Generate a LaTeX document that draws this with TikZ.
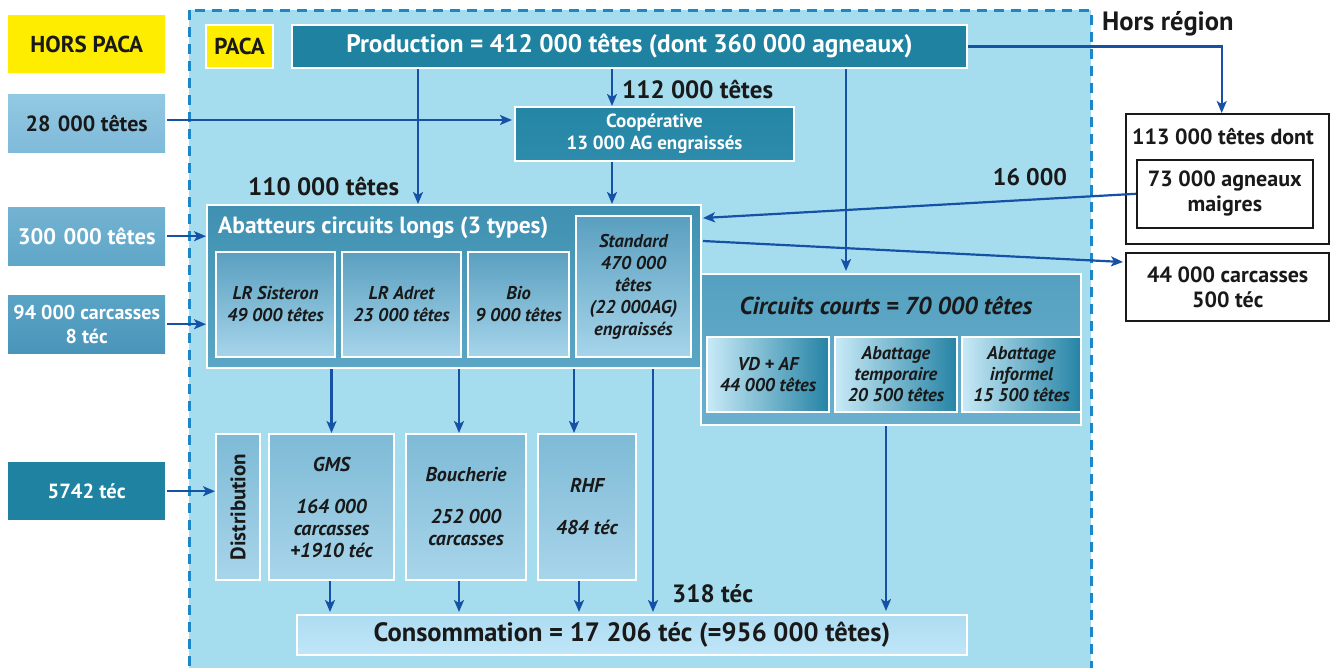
\documentclass[tikz,border=0pt]{standalone}
\usepackage{fontspec}
\setmainfont{PT Sans}
\usetikzlibrary{arrows.meta}
\newcommand\fsz[2]{\fontsize{#1}{#2}\selectfont}
\definecolor{bgblue}{HTML}{A5DDEE}
\definecolor{dashc}{HTML}{1B87C9}
\definecolor{tealc}{HTML}{1F82A0}
\definecolor{arrc}{HTML}{1552A6}
\definecolor{yel}{HTML}{FFED00}
\definecolor{subtop}{HTML}{5A9FC0}
\definecolor{subbot}{HTML}{A6D5EA}
\definecolor{ccleft}{HTML}{C8EAF7}
\definecolor{ccright}{HTML}{2583A5}
\definecolor{distop}{HTML}{7EBAD6}
\definecolor{disbot}{HTML}{A8D5EA}
\definecolor{ltop}{HTML}{92C9E2}
\definecolor{lbot}{HTML}{80BADA}
\definecolor{mtop}{HTML}{74B3D2}
\definecolor{mbot}{HTML}{5FA6C8}
\definecolor{ntop}{HTML}{5AA5C6}
\definecolor{nbot}{HTML}{4994B8}
\definecolor{cooptop}{HTML}{2486A5}
\definecolor{coopbot}{HTML}{2E8BAB}
\definecolor{abtop}{HTML}{3F91B1}
\definecolor{abbot}{HTML}{5BA6C5}
\definecolor{cctop}{HTML}{55A0C0}
\definecolor{ccbot}{HTML}{6AB0CE}
\definecolor{cotop}{HTML}{AEDCF2}
\definecolor{cobot}{HTML}{C0E6F8}
\tikzset{
  arr/.style={draw=arrc, line width=2.2pt, -{Stealth[length=12pt,width=10pt,inset=3pt]}},
  wbox/.style={draw=white, line width=2pt, inner sep=0pt, align=center, anchor=north west},
  lbox/.style={inner sep=0pt, align=center, anchor=north west, minimum width=157, minimum height=58},
  lab/.style={inner sep=0pt, font=\fsz{25}{28}\bfseries, text=black!90},
  subbox/.style={wbox, top color=subtop, bottom color=subbot, font=\fsz{18.5}{22}\bfseries\itshape, text=black!90},
  ccbox/.style={wbox, left color=ccleft, right color=ccright, font=\fsz{18.5}{21}\bfseries\itshape, text=black!90},
  distbox/.style={wbox, top color=distop, bottom color=disbot, font=\fsz{20}{22}\bfseries\itshape, text=black!90},
  blkbox/.style={draw=black!90, line width=2.4pt, fill=white, inner sep=0pt, align=center, anchor=north west, font=\fsz{22}{25}\bfseries, text=black!90}
}
\begin{document}
\begin{tikzpicture}[x=1pt,y=-1pt]
\useasboundingbox (0,0) rectangle (1332,667);
% PACA region
\fill[bgblue] (189,10) rectangle (1091,680);
\draw[dashc, line width=3pt, dash pattern=on 10pt off 7pt] (189,10) rectangle (1091,680);

% Hors PACA column
\node[lbox, fill=yel, font=\fsz{23}{26}\bfseries, text=black!90] (hpaca) at (8,15) {HORS PACA};
\node[lbox, top color=ltop, bottom color=lbot, font=\fsz{22}{26}\bfseries, text=black!90] (h28) at (8,94) {28\,\,000 têtes};
\node[lbox, top color=mtop, bottom color=mbot, font=\fsz{22.5}{26}\bfseries, text=white] (h300) at (8,207) {300\,\,000 têtes};
\node[lbox, top color=ntop, bottom color=nbot, font=\fsz{20}{24}\bfseries, text=white] (h94) at (8,295) {94 000 carcasses\\8 téc};
\node[lbox, fill=tealc, font=\fsz{20.5}{24}\bfseries, text=white] (h5742) at (8,462) {5742 téc};

% Top row
\node[wbox, fill=yel, minimum width=67, minimum height=43, font=\fsz{23}{26}\bfseries, text=black!90] (paca) at (205,24) {PACA};
\node[wbox, fill=tealc, minimum width=675, minimum height=43, text=white, font=\fsz{25.3}{30}\bfseries] (prod) at (291,24) {Production = 412 000 têtes (dont 360 000 agneaux)};
\node[lab, anchor=west, font=\fsz{26.5}{30}\bfseries] (hreg) at (1102,24) {Hors région};

% Cooperative
\node[wbox, top color=cooptop, bottom color=coopbot, minimum width=279, minimum height=54, text=white, font=\fsz{19}{22}\bfseries] (coop) at (514,106) {Coopérative\\13 000 AG engraissés};
\node[lab, anchor=west] (l112) at (622,90) {112 000 têtes};
\node[lab, anchor=west] (l110) at (248,187) {110 000 têtes};

% Abatteurs
\node[wbox, top color=abtop, bottom color=abbot, minimum width=494, minimum height=163] (abat) at (206,204) {};
\node[inner sep=0pt, anchor=west, text=white, font=\fsz{23.5}{26}\bfseries] (abatt) at (218,228) {Abatteurs circuits longs (3 types)};
\node[subbox, minimum width=119, minimum height=105] (lrs) at (215,251) {LR Sisteron\\49 000 têtes};
\node[subbox, minimum width=119, minimum height=105] (lra) at (341,251) {LR Adret\\23 000 têtes};
\node[subbox, minimum width=101, minimum height=105] (bio) at (467,251) {Bio\\9 000 têtes};
\node[subbox, minimum width=115, minimum height=141] (std) at (575,215) {Standard\\470 000\\têtes\\(22 000AG)\\engraissés};

% Circuits courts
\node[wbox, top color=cctop, bottom color=ccbot, minimum width=380, minimum height=151] (cc) at (700,273) {};
\node[inner sep=0pt, text=black!90, font=\fsz{24.5}{28}\bfseries\itshape] (cct) at (886,306) {Circuits courts = 70 000 têtes};
\node[ccbox, minimum width=122, minimum height=75] (vd) at (706,336) {VD + AF\\44 000 têtes};
\node[ccbox, minimum width=122, minimum height=75] (abtemp) at (834,336) {Abattage\\temporaire\\20 500 têtes};
\node[ccbox, minimum width=119, minimum height=75] (abinf) at (961,336) {Abattage\\informel\\15 500 têtes};

% Hors region boxes
\node[blkbox, minimum width=203, minimum height=130] (hr) at (1125,113) {};
\node[inner sep=0pt, text=black!90, font=\fsz{22}{25}\bfseries] (hrt) at (1223,137) {113 000 têtes dont};
\node[blkbox, line width=1.6pt, minimum width=176, minimum height=68] (agn) at (1136,159) {73 000 agneaux\\maigres};
\node[blkbox, minimum width=203, minimum height=68] (c44) at (1125,252) {44 000 carcasses\\500 téc};
\node[lab, font=\fsz{24}{28}\bfseries] (l16) at (1030,177) {16 000};

% Distribution row
\node[distbox, minimum width=44, minimum height=146] (distr) at (215,433) {};
\node[inner sep=0pt, rotate=90, text=black!90, font=\fsz{21}{24}\bfseries] (distrt) at (distr.center) {Distribution};
\node[distbox, minimum width=125, minimum height=146] (gms) at (268,433) {GMS\\[20pt]164 000\\carcasses\\+1910 téc};
\node[distbox, minimum width=120, minimum height=146] (bouch) at (405,433) {Boucherie\\[20pt]252 000\\carcasses};
\node[distbox, minimum width=98, minimum height=146] (rhf) at (537,433) {RHF\\[20pt]484 téc};

% Consommation
\node[wbox, top color=cotop, bottom color=cobot, minimum width=670, minimum height=40, text=black!90, font=\fsz{26.5}{30}\bfseries] (conso) at (296,614) {Consommation = 17 206 téc (=956 000 têtes)};
\node[lab, anchor=west] (l318) at (672,594) {318 téc};

% Arrows
\draw[arr] (prod.south -| 612,0) -- (coop.north -| 612,0);
\draw[arr] (prod.south -| 418,0) -- (abat.north -| 418,0);
\draw[arr] (coop.south -| 612,0) -- (abat.north -| 612,0);
\draw[arr] (prod.south -| 846,0) -- ([yshift=2pt]cc.north -| 846,0);
\draw[arr] (prod.east) -| ([xshift=-6pt]hr.north);
\draw[arr, shorten <=2pt] (h28.east |- 0,120) -- ([xshift=-2pt]coop.west |- 0,120);
\draw[arr, shorten <=2pt] (h300.east) -- (abat.west |- h300.east);
\draw[arr, shorten <=2pt] (h94.east) -- (abat.west |- h94.east);
\draw[arr, shorten <=2pt] (h5742.east) -- (distr.west |- h5742.east);
\draw[arr] (agn.west) -- ([xshift=1pt]abat.east |- 0,218);
\draw[arr] ([xshift=1pt]abat.east |- 0,241) -- ([xshift=-2pt,yshift=-10pt]c44.north west);
\draw[arr] (abat.south -| gms.north) -- (gms.north);
\draw[arr] (abat.south -| 459,0) -- (bouch.north -| 459,0);
\draw[arr] (abat.south -| 574,0) -- (rhf.north -| 574,0);
\draw[arr] (abat.south -| 653,0) -- ([yshift=2pt]conso.north -| 653,0);
\draw[arr] (cc.south -| 886,0) -- ([yshift=3pt]conso.north -| 886,0);
\draw[arr] (gms.south -| 330,0) -- ([yshift=2pt]conso.north -| 330,0);
\draw[arr] (bouch.south -| 459,0) -- ([yshift=2pt]conso.north -| 459,0);
\draw[arr] (rhf.south -| 579,0) -- ([yshift=2pt]conso.north -| 579,0);
\end{tikzpicture}
\end{document}
